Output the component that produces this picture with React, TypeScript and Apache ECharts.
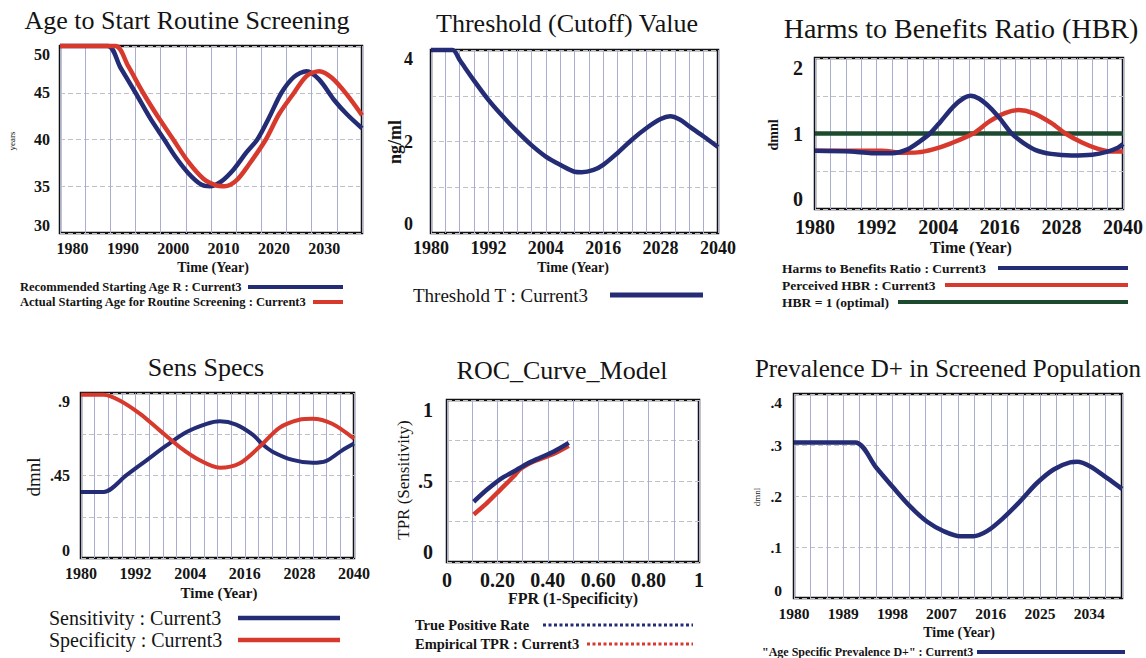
import React, { useEffect, useRef } from 'react';
import * as echarts from 'echarts';

const SERIF = "'Liberation Serif', 'Times New Roman', 'DejaVu Serif', serif";
const NAVY = '#232c74';
const RED = '#d7392d';
const GREEN = '#1d4a2f';
const INK = '#141414';

// ---- Age to Start Routine Screening (years) ----
const recommendedAgeYears = [1980, 1989.5, 1992, 1995, 1998, 2000.7, 2003, 2005.5, 2008, 2009.8, 2012, 2014.5, 2017, 2019.2, 2021.5, 2024, 2026.5, 2029, 2031.5, 2034.5, 2037, 2040];
const recommendedAge = [50, 50, 47.7, 45, 42.2, 40, 38.1, 36.4, 35.2, 35.0, 35.5, 36.8, 38.6, 40, 42.3, 45, 46.7, 47.3, 46.4, 44.2, 42.7, 41.2];
const actualAgeYears = [1980, 1991, 1993.5, 1996.5, 1999.5, 2002.5, 2005.5, 2008.5, 2011, 2012.7, 2015, 2017.5, 2020.9, 2023.5, 2026.5, 2029, 2031.5, 2034, 2037, 2040];
const actualAge = [50, 50, 47.9, 45, 42.4, 40, 37.6, 35.8, 35.1, 35.0, 35.6, 37.3, 40, 42.7, 45, 46.8, 47.3, 46.6, 44.8, 42.6];
const ageXTickLabels = [1980, 1990, 2000, 2010, 2020, 2030];
const ageYTickLabels = [30, 35, 40, 45, 50];

// ---- Threshold (Cutoff) Value (ng/ml) ----
const thresholdYears = [1980, 1984.5, 1986, 1989, 1992, 1995, 1998, 2001, 2004, 2007, 2010, 2011.5, 2014, 2016, 2019, 2022, 2025, 2028, 2030, 2032, 2034, 2037, 2040];
const thresholdValues = [4, 4, 3.78, 3.33, 2.91, 2.55, 2.22, 1.92, 1.67, 1.49, 1.34, 1.33, 1.38, 1.49, 1.75, 2.04, 2.29, 2.49, 2.55, 2.48, 2.33, 2.11, 1.88];
const twelveYearTickLabels = [1980, 1992, 2004, 2016, 2028, 2040];
const thresholdYTickLabels = [0, 2, 4];

// ---- Harms to Benefits Ratio (dmnl) ----
const hbrYears = [1980, 1987, 1991, 1995, 1998, 2000.5, 2002.4, 2004.5, 2007, 2009, 2010.3, 2012, 2014, 2016, 2018.3, 2020.5, 2023, 2026, 2030, 2034, 2037, 2039, 2040];
const hbrValues = [0.77, 0.76, 0.74, 0.74, 0.79, 0.9, 1.0, 1.16, 1.36, 1.47, 1.5, 1.46, 1.35, 1.2, 1.0, 0.88, 0.78, 0.73, 0.71, 0.72, 0.76, 0.81, 0.86];
const perceivedHbrYears = [1980, 1993, 1997, 2000, 2003, 2006.5, 2010.8, 2014, 2017, 2019.7, 2022.5, 2026, 2028.8, 2032, 2035, 2038, 2040];
const perceivedHbrValues = [0.77, 0.77, 0.745, 0.75, 0.79, 0.87, 1.0, 1.16, 1.27, 1.31, 1.27, 1.14, 1.0, 0.88, 0.8, 0.76, 0.76];
const optimalHbrYears = [1980, 2040];
const optimalHbrValues = [1, 1];
const hbrYTickLabels = [0, 1, 2];

// ---- Sens Specs (dmnl) ----
const sensitivityYears = [1980, 1985, 1990, 1994.4, 1998.8, 2003.2, 2007.6, 2010.5, 2014.1, 2017.8, 2019.9, 2022.1, 2026.5, 2030.9, 2033.8, 2037.4, 2040];
const sensitivityValues = [0.36, 0.36, 0.452, 0.533, 0.614, 0.687, 0.732, 0.746, 0.728, 0.672, 0.62, 0.58, 0.535, 0.519, 0.528, 0.587, 0.624];
const specificityYears = [1980, 1985, 1988.6, 1993, 1997.3, 2001.7, 2006.1, 2010.5, 2014.8, 2019.2, 2023.6, 2028, 2030.9, 2035.2, 2040];
const specificityValues = [0.89, 0.89, 0.858, 0.786, 0.696, 0.605, 0.533, 0.492, 0.515, 0.605, 0.71, 0.754, 0.759, 0.732, 0.651];
const sensYTickLabels = [0, 0.45, 0.9];

// ---- ROC_Curve_Model ----
const truePositiveFpr = [0.106, 0.159, 0.212, 0.265, 0.318, 0.371, 0.424, 0.483];
const truePositiveTpr = [0.372, 0.447, 0.512, 0.559, 0.607, 0.645, 0.682, 0.735];
const empiricalFpr = [0.106, 0.159, 0.212, 0.265, 0.291, 0.344, 0.424, 0.483];
const empiricalTpr = [0.293, 0.365, 0.447, 0.529, 0.575, 0.621, 0.668, 0.717];
const rocXTickLabels = [0, 0.2, 0.4, 0.6, 0.8, 1];
const rocYTickLabels = [0, 0.5, 1];

// ---- Prevalence D+ in Screened Population (dmnl) ----
const prevalenceYears = [1980, 1991.2, 1995.1, 1998.2, 2001.2, 2004.3, 2007.4, 2010.4, 2012.8, 2015.3, 2018.3, 2021.4, 2024.4, 2027.5, 2030.5, 2031.8, 2034.2, 2037.3, 2040];
const prevalenceValues = [0.305, 0.305, 0.255, 0.216, 0.18, 0.15, 0.131, 0.121, 0.121, 0.131, 0.157, 0.19, 0.225, 0.252, 0.266, 0.267, 0.258, 0.235, 0.214];
const nineYearTickLabels = [1980, 1989, 1998, 2007, 2016, 2025, 2034];
const prevalenceYTickLabels = [0, 0.1, 0.2, 0.3, 0.4];

type Pair = [number, number];
const zip = (xs: number[], ys: number[]): Pair[] => xs.map((x, i) => [x, ys[i]]);
const hasLabel = (list: number[], v: number) => list.some((l) => Math.abs(l - v) < 1e-6);
const trimZero = (v: number) => (Math.abs(v) < 1e-9 ? '0' : String(+v.toFixed(3)).replace(/^0\./, '.'));
const plain = (v: number) => String(Math.round(v));
const rocFmt = (v: number) => (Math.abs(v) < 1e-9 ? '0' : Math.abs(v - 1) < 1e-9 ? '1' : v.toFixed(2));

const vGrid = { show: true, lineStyle: { color: '#a9aed0', width: 1 } };
const hGrid = { show: true, lineStyle: { color: '#bfc0c8', width: 1, type: [5, 3] } };

function xAxisOf(gridIndex: number, min: number, max: number, interval: number, labels: number[], fontSize: number, margin: number, fmt: (v: number) => string = plain) {
  return {
    type: 'value', gridIndex, min, max, interval,
    axisLine: { show: false }, axisTick: { show: false },
    splitLine: vGrid,
    axisLabel: {
      fontFamily: SERIF, fontWeight: 'bold', fontSize, color: INK, margin,
      formatter: (v: number) => (hasLabel(labels, v) ? fmt(v) : ''),
    },
  };
}

function yAxisOf(gridIndex: number, min: number, max: number, interval: number, labels: number[], fontSize: number, margin: number, fmt: (v: number) => string = plain) {
  return {
    type: 'value', gridIndex, min, max, interval,
    axisLine: { show: false }, axisTick: { show: false },
    splitLine: hGrid,
    axisLabel: {
      fontFamily: SERIF, fontWeight: 'bold', fontSize, color: INK, margin,
      verticalAlignMinLabel: 'bottom', verticalAlignMaxLabel: 'top',
      formatter: (v: number) => (hasLabel(labels, v) ? fmt(v) : ''),
    },
  };
}

function lineSeries(name: string, xAxisIndex: number, yAxisIndex: number, data: Pair[], color: string, width: number) {
  return {
    name, type: 'line', xAxisIndex, yAxisIndex, data,
    showSymbol: false, symbol: 'none', smooth: 0.3,
    clip: false, silent: true,
    lineStyle: { color, width, cap: 'butt', join: 'round' },
  };
}

function text(str: string, x: number, y: number, size: number, opts: { bold?: boolean; align?: string; rotate?: boolean } = {}) {
  const align = opts.align || 'center';
  return {
    type: 'text', x, y, rotation: opts.rotate ? Math.PI / 2 : 0, silent: true,
    style: {
      text: str, fontFamily: SERIF, fontSize: size, fontWeight: opts.bold ? 'bold' : 'normal', fill: INK,
      align, verticalAlign: 'middle', textAlign: align, textVerticalAlign: 'middle',
    },
  };
}

function legendLine(x1: number, x2: number, y: number, color: string, width: number, dash?: number[]) {
  return {
    type: 'line', silent: true,
    shape: { x1, y1: y, x2, y2: y },
    style: { stroke: color, lineWidth: width, lineDash: dash || null },
  };
}

const gridBox = (left: number, top: number, width: number, height: number) => ({
  left, top, width, height, show: true, borderColor: '#111', borderWidth: 2.5, backgroundColor: '#fff',
});

export default function App() {
  const ref = useRef<HTMLDivElement>(null);

  useEffect(() => {
    if (!ref.current) return;
    const chart = echarts.init(ref.current, undefined, { renderer: 'svg' });

    const grid = [
      gridBox(60, 46, 302, 187),
      gridBox(431, 50, 287, 183),
      gridBox(815, 58, 309, 151),
      gridBox(81, 393, 273, 165),
      gridBox(447, 400, 252, 162),
      gridBox(794, 394, 328, 204),
    ];

    const xAxis = [
      xAxisOf(0, 1980, 2040, 5, [], 16, 7),
      {
        // label track for the first panel's time axis
        type: 'value', gridIndex: 0, min: 1977.5, max: 2037.5, position: 'bottom', offset: 0,
        axisLine: { show: false }, axisTick: { show: false }, splitLine: { show: false },
        axisLabel: {
          fontFamily: SERIF, fontWeight: 'bold', fontSize: 16, color: INK, margin: 7,
          customValues: ageXTickLabels, formatter: (v: number) => (hasLabel(ageXTickLabels, v) ? plain(v) : ''),
        },
      },
      xAxisOf(1, 1980, 2040, 3, twelveYearTickLabels, 18, 6),
      xAxisOf(2, 1980, 2040, 3, twelveYearTickLabels, 20, 8),
      xAxisOf(3, 1980, 2040, 3, twelveYearTickLabels, 16, 7),
      xAxisOf(4, 0, 1, 0.1, rocXTickLabels, 20, 8, rocFmt),
      xAxisOf(5, 1980, 2040, 3, nineYearTickLabels, 15.5, 7),
    ];

    const yAxis = [
      yAxisOf(0, 30, 50, 5, ageYTickLabels, 16, 10),
      yAxisOf(1, 0, 4, 1, thresholdYTickLabels, 18, 18),
      yAxisOf(2, 0, 2, 0.5, hbrYTickLabels, 20, 12),
      yAxisOf(3, 0, 0.9, 0.225, sensYTickLabels, 16, 11, trimZero),
      yAxisOf(4, 0, 1, 0.25, rocYTickLabels, 20, 14, trimZero),
      yAxisOf(5, 0, 0.4, 0.1, prevalenceYTickLabels, 15.5, 12, trimZero),
    ];

    const series = [
      lineSeries('Recommended Starting Age R', 0, 0, zip(recommendedAgeYears, recommendedAge), NAVY, 4.5),
      lineSeries('Actual Starting Age for Routine Screening', 0, 0, zip(actualAgeYears, actualAge), RED, 4.5),
      lineSeries('Threshold T', 2, 1, zip(thresholdYears, thresholdValues), NAVY, 4.5),
      lineSeries('HBR = 1 (optimal)', 3, 2, zip(optimalHbrYears, optimalHbrValues), GREEN, 4.5),
      lineSeries('Perceived HBR', 3, 2, zip(perceivedHbrYears, perceivedHbrValues), RED, 4.5),
      lineSeries('Harms to Benefits Ratio', 3, 2, zip(hbrYears, hbrValues), NAVY, 4.5),
      lineSeries('Sensitivity', 4, 3, zip(sensitivityYears, sensitivityValues), NAVY, 4),
      lineSeries('Specificity', 4, 3, zip(specificityYears, specificityValues), RED, 4),
      lineSeries('Empirical TPR', 5, 4, zip(empiricalFpr, empiricalTpr), RED, 4.5),
      lineSeries('True Positive Rate', 5, 4, zip(truePositiveFpr, truePositiveTpr), NAVY, 4.5),
      lineSeries('Age Specific Prevalence D+', 6, 5, zip(prevalenceYears, prevalenceValues), NAVY, 4.5),
    ];

    const graphic = [
      // panel titles
      text('Age to Start Routine Screening', 187, 20, 26),
      text('Threshold (Cutoff) Value', 567, 23, 26),
      text('Harms to Benefits Ratio (HBR)', 961, 28, 28),
      text('Sens Specs', 206, 367, 26),
      text('ROC_Curve_Model', 562, 370, 26),
      text('Prevalence D+ in Screened Population', 948, 368, 25),

      // axis titles
      text('Time (Year)', 213, 267, 14, { bold: true }),
      text('Time (Year)', 573, 267, 14, { bold: true }),
      text('Time (Year)', 971, 247, 16, { bold: true }),
      text('Time (Year)', 219, 593, 15, { bold: true }),
      text('FPR (1-Specificity)', 573, 598, 16, { bold: true }),
      text('Time (Year)', 959, 632, 14, { bold: true }),

      // units
      text('years', 12, 141, 9, { rotate: true }),
      text('ng/ml', 395, 142, 18, { bold: true, rotate: true }),
      text('dmnl', 773, 135, 14, { bold: true, rotate: true }),
      text('dmnl', 33, 477, 19, { rotate: true }),
      text('TPR (Sensitivity)', 403, 480, 17, { rotate: true }),
      text('dmnl', 757, 497, 9, { rotate: true }),

      // legends
      text('Recommended Starting Age R : Current3', 20, 287, 12.5, { bold: true, align: 'left' }),
      legendLine(248, 343, 287, NAVY, 4),
      text('Actual Starting Age for Routine Screening : Current3', 20, 302, 12.5, { bold: true, align: 'left' }),
      legendLine(313, 343, 302, RED, 4),

      text('Threshold T : Current3', 413, 295, 19, { align: 'left' }),
      legendLine(610, 703, 295, NAVY, 5),

      text('Harms to Benefits Ratio : Current3', 782, 268, 13.5, { bold: true, align: 'left' }),
      legendLine(998, 1128, 268, NAVY, 4),
      text('Perceived HBR : Current3', 782, 285, 13.5, { bold: true, align: 'left' }),
      legendLine(945, 1128, 285, RED, 4),
      text('HBR = 1 (optimal)', 782, 302, 13.5, { bold: true, align: 'left' }),
      legendLine(898, 1128, 302, GREEN, 4),

      text('Sensitivity : Current3', 49, 618, 20, { align: 'left' }),
      legendLine(238, 340, 618, NAVY, 4.5),
      text('Specificity : Current3', 49, 640, 20, { align: 'left' }),
      legendLine(238, 340, 640, RED, 4.5),

      text('True Positive Rate', 415, 625, 14.5, { bold: true, align: 'left' }),
      legendLine(543, 693, 625, NAVY, 3, [3, 2.5]),
      text('Empirical TPR : Current3', 415, 644, 14.5, { bold: true, align: 'left' }),
      legendLine(587, 693, 644, RED, 3, [3, 2.5]),

      text('"Age Specific Prevalence D+" : Current3', 762, 652, 12, { bold: true, align: 'left' }),
      legendLine(977, 1125, 652, NAVY, 4),
    ];

    chart.setOption({
      animation: false,
      backgroundColor: '#ffffff',
      grid, xAxis, yAxis, series, graphic,
    });

    return () => chart.dispose();
  }, []);

  return (
    <div
      ref={ref}
      style={{ position: 'absolute', left: 0, top: 0, width: 1146, height: 658, background: '#fff' }}
    />
  );
}
